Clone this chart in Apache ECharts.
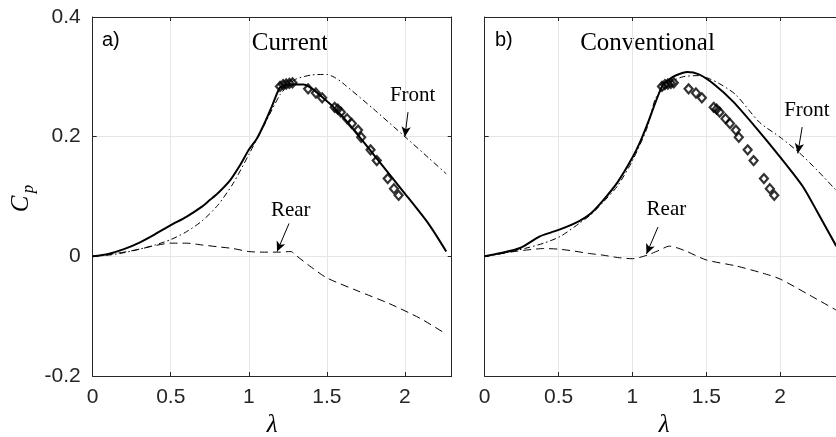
<!DOCTYPE html>
<html>
<head>
<meta charset="utf-8">
<script src="https://cdn.jsdelivr.net/npm/echarts@6/dist/echarts.min.js"></script>
<style>
  html, body { margin: 0; padding: 0; background: #fff; }
  #chart { width: 836px; height: 437px; }
</style>
</head>
<body>
<div id="chart"></div>
<script>
// ---- Power coefficient vs tip-speed ratio: current design (a) ----
const aTotalLam = [0, 0.1, 0.2, 0.3, 0.4, 0.5, 0.6, 0.7, 0.75, 0.8, 0.88, 0.95, 1.0, 1.05, 1.1, 1.15, 1.2, 1.25, 1.3, 1.35, 1.45, 1.6, 1.8, 2.0, 2.15, 2.265];
const aTotalCp  = [0, 0.004, 0.012, 0.023, 0.037, 0.052, 0.066, 0.083, 0.094, 0.105, 0.127, 0.155, 0.178, 0.196, 0.222, 0.252, 0.282, 0.287, 0.287, 0.287, 0.271, 0.234, 0.17, 0.105, 0.055, 0.008];

const aFrontLam = [0, 0.1, 0.2, 0.3, 0.4, 0.5, 0.6, 0.7, 0.8, 0.9, 1.0, 1.1, 1.2, 1.25, 1.3, 1.4, 1.5, 1.55, 1.6, 1.8, 2.0, 2.15, 2.265];
const aFrontCp  = [0, 0.002, 0.006, 0.012, 0.019, 0.028, 0.041, 0.059, 0.085, 0.122, 0.17, 0.22, 0.27, 0.285, 0.296, 0.303, 0.304, 0.299, 0.29, 0.246, 0.2, 0.165, 0.138];

const aRearLam = [0, 0.1, 0.2, 0.3, 0.4, 0.5, 0.6, 0.7, 0.8, 0.9, 1.0, 1.1, 1.2, 1.27, 1.3, 1.4, 1.5, 1.7, 1.9, 2.1, 2.265];
const aRearCp  = [0, 0.003, 0.007, 0.012, 0.018, 0.022, 0.022, 0.019, 0.016, 0.013, 0.008, 0.007, 0.007, 0.008, 0.002, -0.018, -0.036, -0.058, -0.079, -0.104, -0.13];

// ---- Conventional design (b) ----
const bTotalLam = [0, 0.1, 0.24, 0.37, 0.45, 0.51, 0.64, 0.72, 0.8, 0.9, 1.0, 1.05, 1.1, 1.2, 1.25, 1.3, 1.37, 1.45, 1.55, 1.68, 1.84, 2.0, 2.15, 2.25, 2.38];
const bTotalCp  = [0, 0.005, 0.014, 0.033, 0.04, 0.045, 0.059, 0.072, 0.093, 0.124, 0.165, 0.19, 0.22, 0.284, 0.296, 0.303, 0.308, 0.304, 0.288, 0.259, 0.214, 0.166, 0.118, 0.075, 0.017];

const bFrontLam = [0, 0.1, 0.2, 0.3, 0.4, 0.51, 0.64, 0.72, 0.8, 0.9, 1.0, 1.1, 1.16, 1.25, 1.34, 1.45, 1.52, 1.6, 1.7, 1.86, 2.0, 2.13, 2.25, 2.38];
const bFrontCp  = [0, 0.004, 0.009, 0.015, 0.022, 0.033, 0.055, 0.07, 0.09, 0.118, 0.16, 0.215, 0.266, 0.29, 0.3, 0.302, 0.297, 0.287, 0.27, 0.224, 0.199, 0.173, 0.144, 0.11];

const bRearLam = [0, 0.1, 0.2, 0.3, 0.4, 0.5, 0.6, 0.7, 0.8, 0.9, 1.0, 1.1, 1.18, 1.25, 1.35, 1.5, 1.7, 1.88, 2.0, 2.2, 2.38];
const bRearCp  = [0, 0.004, 0.008, 0.011, 0.013, 0.012, 0.009, 0.005, 0.002, -0.002, -0.004, 0.002, 0.01, 0.017, 0.01, -0.006, -0.016, -0.028, -0.038, -0.065, -0.09];

// ---- Experimental points (shown in both panels) ----
const expLam = [1.2, 1.22, 1.24, 1.26, 1.28, 1.38, 1.43, 1.47, 1.55, 1.57, 1.59, 1.63, 1.66, 1.70, 1.72, 1.78, 1.82, 1.89, 1.93, 1.96];
const expCp  = [0.284, 0.287, 0.288, 0.289, 0.29, 0.28, 0.273, 0.265, 0.249, 0.246, 0.241, 0.23, 0.222, 0.211, 0.199, 0.178, 0.16, 0.13, 0.113, 0.102];

// ---- Axis ticks ----
const xTicks = [0, 0.5, 1, 1.5, 2];
const yTicks = [-0.2, 0, 0.2, 0.4];

const pairs = (xs, ys) => xs.map((x, i) => [x, ys[i]]);

const AX = '#262626';
const GRIDC = '#e6e6e6';
const SANS = '"Liberation Sans", Arial, Helvetica, sans-serif';
const SERIF = '"Liberation Serif", "Times New Roman", serif';

const xStep = xTicks[1] - xTicks[0];
const yStep = yTicks[1] - yTicks[0];

function xAxisPair(gridIndex, max) {
  return [{
    type: 'value', gridIndex, position: 'bottom',
    min: xTicks[0], max, interval: xStep,
    axisLine: { show: true, onZero: false, lineStyle: { color: AX, width: 1 } },
    axisTick: { show: true, inside: true, length: 4, lineStyle: { color: AX } },
    axisLabel: { show: true, color: AX, fontSize: 21, fontFamily: SANS, margin: 11, showMaxLabel: false },
    splitLine: { show: true, lineStyle: { color: GRIDC, width: 1 } },
    name: 'λ', nameLocation: 'middle', nameGap: 31,
    nameTextStyle: { fontFamily: SERIF, fontStyle: 'italic', fontSize: 25, color: '#000', verticalAlign: 'top' }
  }, {
    type: 'value', gridIndex, position: 'top',
    min: xTicks[0], max, interval: xStep,
    axisLine: { show: true, onZero: false, lineStyle: { color: AX, width: 1 } },
    axisTick: { show: true, inside: true, length: 4, lineStyle: { color: AX } },
    axisLabel: { show: false }, splitLine: { show: false }
  }];
}

function yAxisPair(gridIndex, showLabels) {
  return [{
    type: 'value', gridIndex, position: 'left',
    min: yTicks[0], max: yTicks[yTicks.length - 1], interval: yStep,
    axisLine: { show: true, onZero: false, lineStyle: { color: AX, width: 1 } },
    axisTick: { show: true, inside: true, length: 4, lineStyle: { color: AX } },
    axisLabel: { show: showLabels, color: AX, fontSize: 21, fontFamily: SANS, margin: 12 },
    splitLine: { show: true, lineStyle: { color: GRIDC, width: 1 } }
  }, {
    type: 'value', gridIndex, position: 'right',
    min: yTicks[0], max: yTicks[yTicks.length - 1], interval: yStep,
    axisLine: { show: true, onZero: false, lineStyle: { color: AX, width: 1 } },
    axisTick: { show: true, inside: true, length: 4, lineStyle: { color: AX } },
    axisLabel: { show: false }, splitLine: { show: false }
  }];
}

function arrow(from, to) {
  return {
    silent: true, symbol: ['none', 'arrow'], symbolSize: [7, 10],
    lineStyle: { color: '#000', width: 1, type: 'solid' },
    label: { show: false }, emphasis: { disabled: true },
    data: [[{ coord: from }, { coord: to }]]
  };
}

function tag(text, at) {
  return {
    silent: true, symbol: 'rect', symbolSize: 1,
    itemStyle: { color: 'rgba(0,0,0,0)' },
    label: { show: true, position: 'inside', formatter: '{b}', color: '#000', fontFamily: SERIF, fontSize: 21 },
    data: [{ name: text, coord: at }]
  };
}

function panelSeries(xi, total, front, rear, arrows) {
  const base = { type: 'line', xAxisIndex: xi, yAxisIndex: xi, symbol: 'none', smooth: 0.25, silent: true };
  return [
    Object.assign({}, base, {
      name: 'Rear', data: rear, z: 2,
      lineStyle: { color: '#000', width: 1, type: [8, 5] },
      markLine: arrow(arrows.rear[0], arrows.rear[1]),
      markPoint: tag('Rear', arrows.rear[2])
    }),
    Object.assign({}, base, {
      name: 'Front', data: front, z: 3,
      lineStyle: { color: '#000', width: 1, type: [6, 3, 1.5, 3] },
      markLine: arrow(arrows.front[0], arrows.front[1]),
      markPoint: tag('Front', arrows.front[2])
    }),
    Object.assign({}, base, {
      name: 'Total', data: total, z: 4,
      lineStyle: { color: '#000', width: 2, type: 'solid' }
    }),
    {
      type: 'scatter', name: 'Experiment', xAxisIndex: xi, yAxisIndex: xi, z: 5, silent: true,
      symbol: 'diamond', symbolSize: [8, 9],
      itemStyle: { color: 'rgba(255,255,255,0)', borderColor: '#000', borderWidth: 2.2 },
      data: pairs(expLam, expCp)
    }
  ];
}

const chart = echarts.init(document.getElementById('chart'), null, { renderer: 'canvas' });

const seriesA = panelSeries(0,
  pairs(aTotalLam, aTotalCp), pairs(aFrontLam, aFrontCp), pairs(aRearLam, aRearCp),
  {
    front: [[2.02, 0.241], [2.0, 0.2], [2.05, 0.268]],
    rear: [[1.258, 0.055], [1.181, 0.008], [1.269, 0.077]]
  });
const seriesB = panelSeries(2,
  pairs(bTotalLam, bTotalCp), pairs(bFrontLam, bFrontCp), pairs(bRearLam, bRearCp),
  {
    front: [[2.149, 0.216], [2.119, 0.172], [2.181, 0.244]],
    rear: [[1.173, 0.049], [1.095, 0.004], [1.23, 0.078]]
  });

chart.setOption({
  animation: false,
  backgroundColor: '#fff',
  grid: [
    { left: 92.7, top: 17, width: 359, height: 359, show: false, containLabel: false, outerBoundsMode: 'none' },
    { left: 484.7, top: 17, width: 359, height: 359, show: false, containLabel: false, outerBoundsMode: 'none' }
  ],
  xAxis: [...xAxisPair(0, 2.3), ...xAxisPair(1, 2.43)],
  yAxis: [...yAxisPair(0, true), ...yAxisPair(1, false)],
  series: [...seriesA, ...seriesB],
  graphic: [
    { type: 'text', left: 102, top: 30, style: { text: 'a)', font: '20px ' + SANS, fill: '#000' } },
    { type: 'text', left: 495, top: 30, style: { text: 'b)', font: '20px ' + SANS, fill: '#000' } },
    { type: 'text', x: 290, y: 43, style: { text: 'Current', font: '25px ' + SERIF, fill: '#000', align: 'center', verticalAlign: 'middle' } },
    { type: 'text', x: 647.5, y: 43, style: { text: 'Conventional', font: '25px ' + SERIF, fill: '#000', align: 'center', verticalAlign: 'middle' } },
    {
      type: 'group', x: 21, y: 204, rotation: Math.PI / 2,
      children: [
        { type: 'text', x: 0, y: 0, style: { text: 'C', font: 'italic 25px ' + SERIF, fill: '#000', align: 'center', verticalAlign: 'middle' } },
        { type: 'text', x: 15, y: 8, style: { text: 'p', font: 'italic 17px ' + SERIF, fill: '#000', align: 'center', verticalAlign: 'middle' } }
      ]
    }
  ]
});
</script>
</body>
</html>
